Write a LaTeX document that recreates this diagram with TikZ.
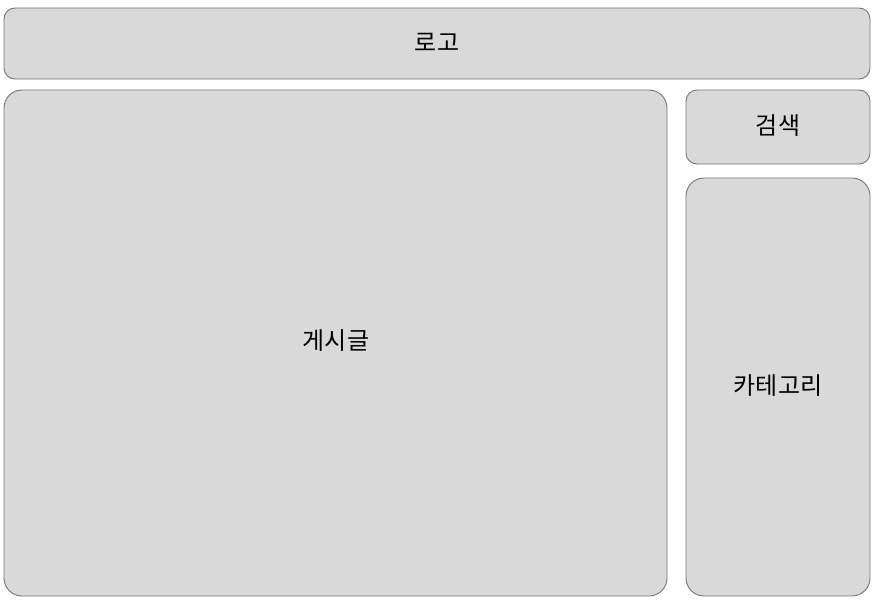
\documentclass[tikz,border=0pt]{standalone}
\usepackage{fontspec}
\setmainfont{Noto Sans CJK KR}
\definecolor{boxfill}{HTML}{D9D9D9}
\definecolor{boxline}{HTML}{757575}
\begin{document}
\begin{tikzpicture}[x=1pt,y=-1pt,
  panel/.style={draw=boxline,fill=boxfill,line width=0.9pt},
  lbl/.style={font=\fontsize{24}{28}\selectfont,text=black,inner sep=0pt}]
\useasboundingbox (0,0) rectangle (882,602);
\draw[panel,rounded corners=11pt] (4,8) rectangle (870,79);
\draw[panel,rounded corners=18pt] (4,90) rectangle (667,596);
\draw[panel,rounded corners=11pt] (686,90) rectangle (870,164);
\draw[panel,rounded corners=18pt] (686,178) rectangle (870,596);
\node[lbl] (logo) at (437,42) {로고};
\node[lbl] (post) at (336,341) {게시글};
\node[lbl] (search) at (778,126) {검색};
\node[lbl] (cat) at (778,386) {카테고리};
\end{tikzpicture}
\end{document}
